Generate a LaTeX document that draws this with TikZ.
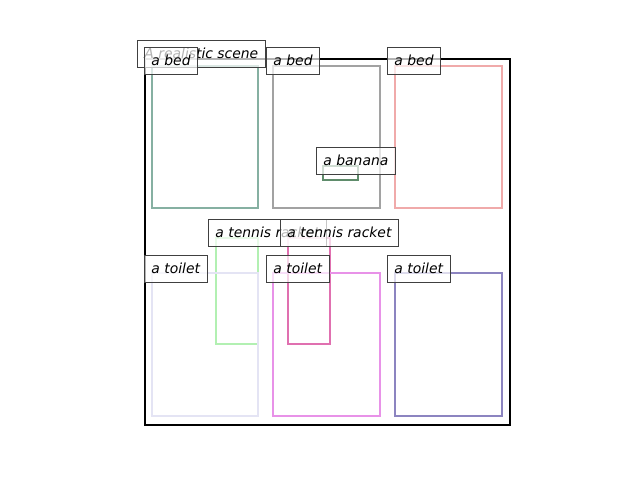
\documentclass[tikz,border=0pt]{standalone}
\usepackage{fontspec}
\setmainfont{DejaVu Sans}
\begin{document}
\begin{tikzpicture}[x=1pt,y=-1pt,
  bbox/.style={line width=2.6pt},
  lbl/.style={draw=black!75, line width=0.9pt, fill=white, fill opacity=0.7, text opacity=1,
    anchor=base west, inner xsep=7pt, inner ysep=6.5pt, text height=11.5pt, text depth=2.5pt,
    font=\fontsize{13.9}{16}\selectfont\itshape}]
\useasboundingbox (0,0) rectangle (640,480);
\definecolor{cbedA}{HTML}{86B0A2}
\definecolor{cbedB}{HTML}{A2A2A2}
\definecolor{cbedC}{HTML}{F0AAAA}
\definecolor{cban}{HTML}{5F8C6B}
\definecolor{cracA}{HTML}{B2F0B2}
\definecolor{cracB}{HTML}{E070B0}
\definecolor{ctoiA}{HTML}{E4E4F4}
\definecolor{ctoiB}{HTML}{E892E8}
\definecolor{ctoiC}{HTML}{8C84C0}
% boxes
\draw[bbox, cbedA] (152,66) rectangle (258,208);
\draw[bbox, cbedB] (273,66) rectangle (380,208);
\draw[bbox, cbedC] (395,66) rectangle (502,208);
\draw[bbox, cban] (323,166) rectangle (358,180);
\draw[bbox, cracA] (216,238) rectangle (258,344);
\draw[bbox, cracB] (288,238) rectangle (330,344);
\draw[bbox, ctoiA] (152,273) rectangle (258,416);
\draw[bbox, ctoiB] (273,273) rectangle (380,416);
\draw[bbox, ctoiC] (395,273) rectangle (502,416);
% frame
\draw[line width=2.2pt, black] (145,59) rectangle (510,425);
% labels
\node[lbl] (title) at (137,58) {A realistic scene};
\node[lbl] (bedA) at (144,65) {a bed};
\node[lbl] (bedB) at (266,65) {a bed};
\node[lbl] (bedC) at (387,65) {a bed};
\node[lbl] (ban) at (316,165) {a banana};
\node[lbl] (racA) at (208,237) {a tennis racket};
\node[lbl] (racB) at (280,237) {a tennis racket};
\node[lbl] (toiA) at (144,273) {a toilet};
\node[lbl] (toiB) at (266,273) {a toilet};
\node[lbl] (toiC) at (387,273) {a toilet};
\end{tikzpicture}
\end{document}
